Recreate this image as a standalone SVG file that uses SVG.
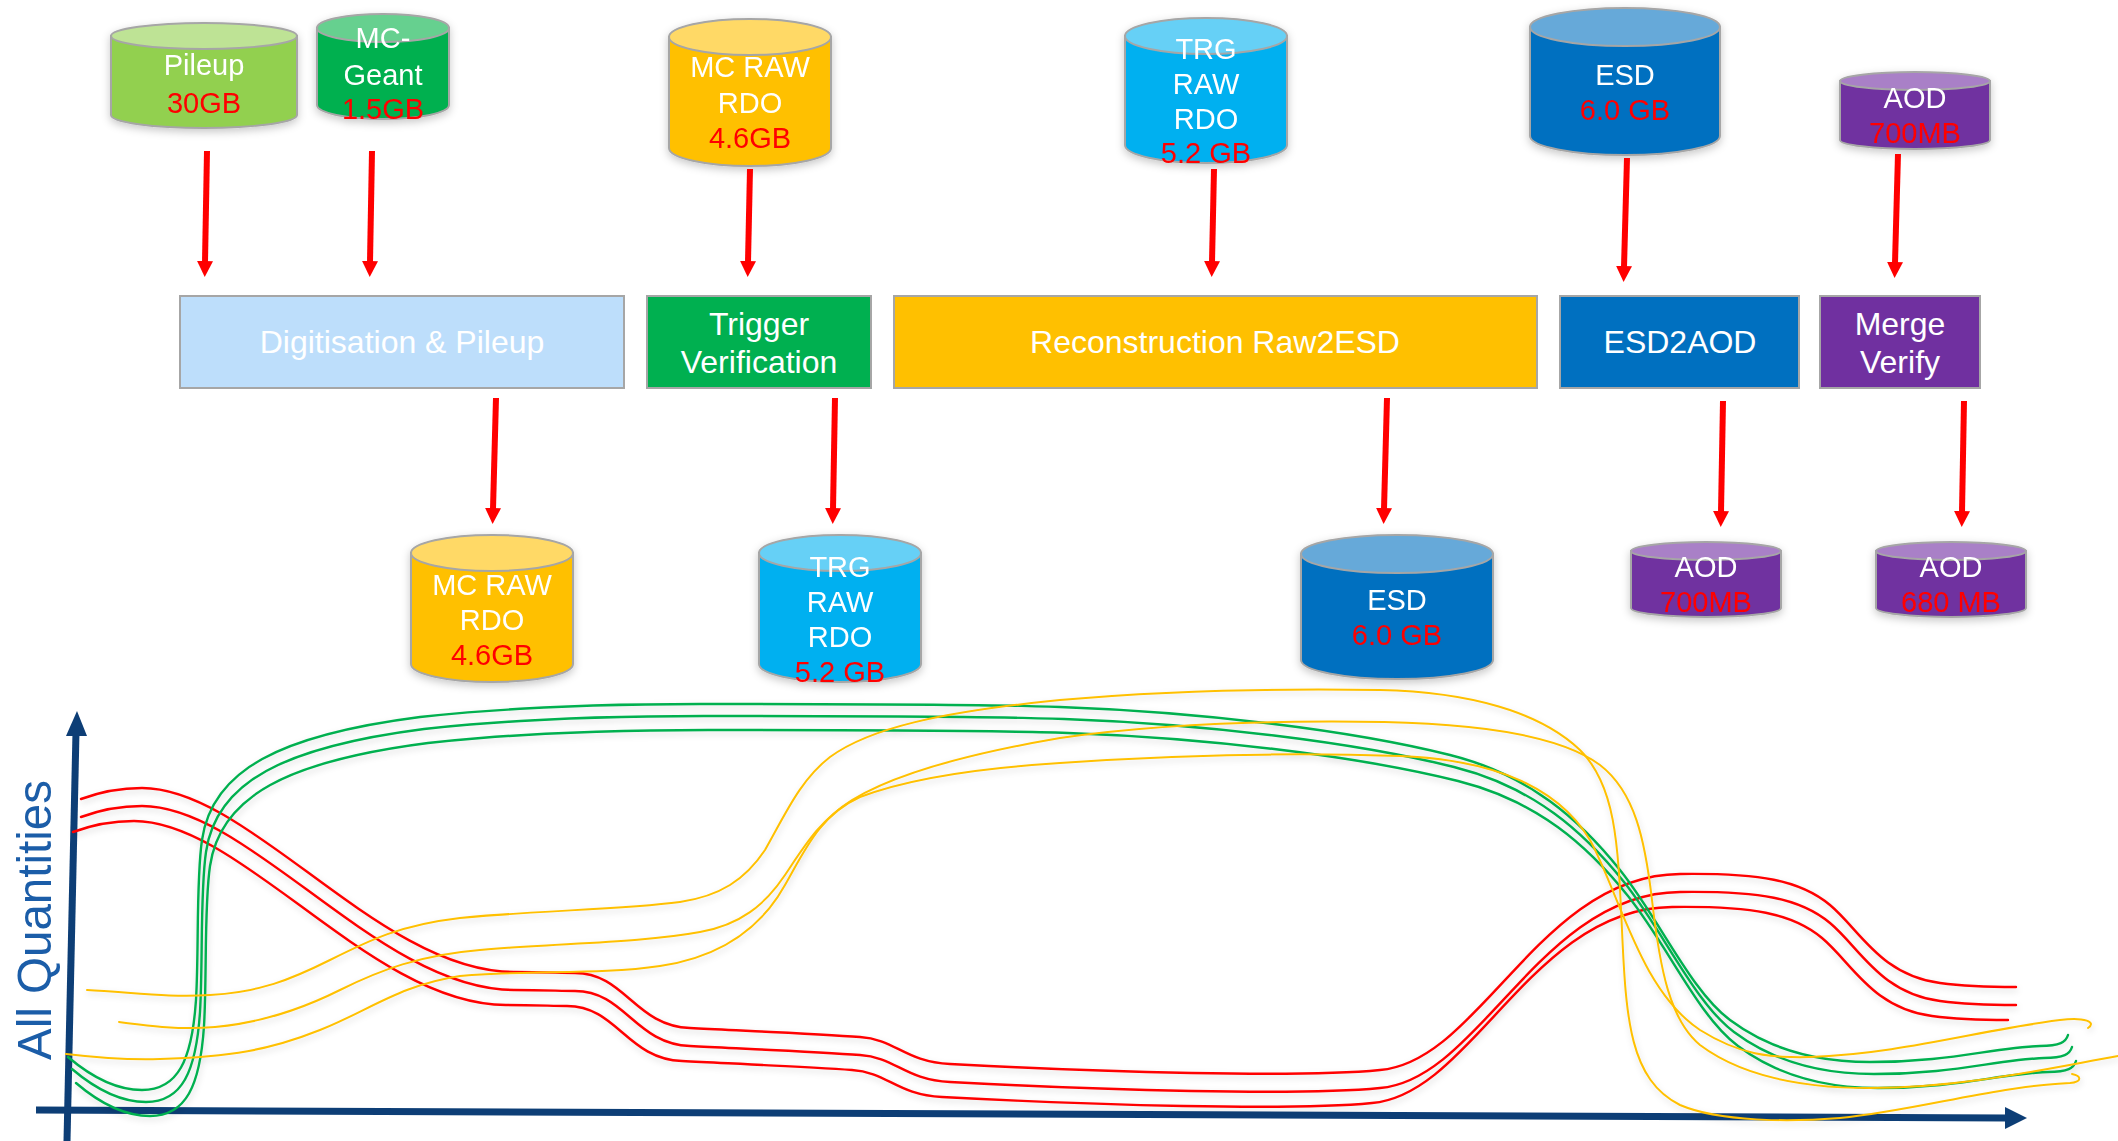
<svg xmlns="http://www.w3.org/2000/svg" xmlns:xlink="http://www.w3.org/1999/xlink" width="2118" height="1141" viewBox="0 0 2118 1141">
<style>
.cb{stroke:#A6A6A6;stroke-width:2}
.t{font-family:"Liberation Sans",Arial,sans-serif;font-size:29px;fill:#FFFFFF;text-anchor:middle}
.v{fill:#FF0000}
.bx{stroke:#A6A6A6;stroke-width:2}
.bt{font-size:32px}
.arr{stroke:#FF0000;stroke-width:6;fill:none;marker-end:url(#ah)}
.ax{stroke:#0D3E76;stroke-width:7;fill:none}
.cr{fill:none;stroke-width:2.4;stroke-linecap:round}
.red{stroke:#FF0000}
.grn{stroke:#00B050}
.yel{stroke:#FFC000;stroke-width:2}
</style>
<defs>
<marker id="ah" viewBox="0 0 16 16" refX="1" refY="8" markerWidth="16" markerHeight="16" markerUnits="userSpaceOnUse" orient="auto">
<path d="M0,0 L16,8 L0,16 Z" fill="#FF0000"/>
</marker>
<filter id="sh" x="-20%" y="-20%" width="140%" height="150%">
<feDropShadow dx="0" dy="3" stdDeviation="4" flood-color="#000" flood-opacity="0.22"/>
</filter>
<filter id="lsh" x="-5%" y="-5%" width="110%" height="115%">
<feDropShadow dx="1" dy="3" stdDeviation="3" flood-color="#000" flood-opacity="0.15"/>
</filter>
<path id="red1" d="M81,799 C100,792 120,788 142,788 C250,788 380,972 514,972 C545,972 560,973 575,973 C625,973 635,1026 690,1028 C750,1031 820,1034 860,1037 C895,1039 905,1062 950,1064 C1100,1072 1300,1078 1380,1070 C1480,1062 1540,875 1680,874 C1760,873 1800,880 1830,905 C1860,930 1880,975 1940,983 C1970,987 2000,987 2016,987"/>
<path id="grn1" d="M68,1057 C95,1080 118,1090 142,1090 C178,1090 192,1060 196,1000 C199,950 196,880 202,840 C212,770 280,735 420,717 C520,706 620,704 700,704 C850,704 980,704 1060,707 C1200,712 1350,730 1450,755 C1530,775 1580,820 1620,870 C1660,920 1690,990 1730,1020 C1770,1050 1820,1062 1870,1062 C1950,1062 1990,1048 2040,1046 C2060,1046 2066,1042 2068,1035"/>
</defs>

<!-- Top data cylinders -->
<g id="pileup" filter="url(#sh)">
<path class="cb" fill="#92D050" d="M111,36 L111,115 A93,13 0 0 0 297,115 L297,36 Z"/>
<ellipse class="cb" fill="#BEE395" cx="204" cy="36" rx="93" ry="13"/>
<text class="t" x="204" y="75" font-size="32">Pileup</text>
<text class="t v" x="204" y="113" font-size="32">30GB</text>
</g>
<g id="mc-geant" filter="url(#sh)">
<path class="cb" fill="#00B050" d="M317,28 L317,105 A66,14 0 0 0 449,105 L449,28 Z"/>
<ellipse class="cb" fill="#66D08F" cx="383" cy="28" rx="66" ry="14"/>
<text class="t" x="383" y="48">MC-</text>
<text class="t" x="383" y="85">Geant</text>
<text class="t v" x="383" y="119">1.5GB</text>
</g>
<g id="mc-raw-rdo-in" filter="url(#sh)">
<path class="cb" fill="#FFC000" d="M669,37 L669,148 A81,18 0 0 0 831,148 L831,37 Z"/>
<ellipse class="cb" fill="#FFD966" cx="750" cy="37" rx="81" ry="18"/>
<text class="t" x="750" y="77">MC RAW</text>
<text class="t" x="750" y="113">RDO</text>
<text class="t v" x="750" y="148">4.6GB</text>
</g>
<g id="trg-raw-rdo-in" filter="url(#sh)">
<path class="cb" fill="#00B0F0" d="M1125,36 L1125,145 A81,18 0 0 0 1287,145 L1287,36 Z"/>
<ellipse class="cb" fill="#66D0F6" cx="1206" cy="36" rx="81" ry="18"/>
<text class="t" x="1206" y="59">TRG</text>
<text class="t" x="1206" y="94">RAW</text>
<text class="t" x="1206" y="129">RDO</text>
<text class="t v" x="1206" y="163">5.2 GB</text>
</g>
<g id="esd-in" filter="url(#sh)">
<path class="cb" fill="#0070C0" d="M1530,27 L1530,136 A95,19 0 0 0 1720,136 L1720,27 Z"/>
<ellipse class="cb" fill="#66A9D9" cx="1625" cy="27" rx="95" ry="19"/>
<text class="t" x="1625" y="85">ESD</text>
<text class="t v" x="1625" y="120">6.0 GB</text>
</g>
<g id="aod-in" filter="url(#sh)">
<path class="cb" fill="#7030A0" d="M1840,81 L1840,140 A75,9 0 0 0 1990,140 L1990,81 Z"/>
<ellipse class="cb" fill="#A980C7" cx="1915" cy="81" rx="75" ry="9"/>
<text class="t" x="1915" y="108">AOD</text>
<text class="t v" x="1915" y="143">700MB</text>
</g>

<!-- Process boxes -->
<g id="digitisation">
<rect class="bx" x="180" y="296" width="444" height="92" fill="#BDDEFB"/>
<text class="t bt" x="402" y="353">Digitisation &amp; Pileup</text>
</g>
<g id="trigger">
<rect class="bx" x="647" y="296" width="224" height="92" fill="#00B050"/>
<text class="t bt" x="759" y="335">Trigger</text>
<text class="t bt" x="759" y="373">Verification</text>
</g>
<g id="reconstruction">
<rect class="bx" x="894" y="296" width="643" height="92" fill="#FFC000"/>
<text class="t bt" x="1215" y="353">Reconstruction Raw2ESD</text>
</g>
<g id="esd2aod">
<rect class="bx" x="1560" y="296" width="239" height="92" fill="#0070C0"/>
<text class="t bt" x="1680" y="353">ESD2AOD</text>
</g>
<g id="merge">
<rect class="bx" x="1820" y="296" width="160" height="92" fill="#7030A0"/>
<text class="t bt" x="1900" y="335">Merge</text>
<text class="t bt" x="1900" y="373">Verify</text>
</g>

<!-- Output cylinders -->
<g id="mc-raw-rdo-out" filter="url(#sh)">
<path class="cb" fill="#FFC000" d="M411,553 L411,664 A81,18 0 0 0 573,664 L573,553 Z"/>
<ellipse class="cb" fill="#FFD966" cx="492" cy="553" rx="81" ry="18"/>
<text class="t" x="492" y="595">MC RAW</text>
<text class="t" x="492" y="630">RDO</text>
<text class="t v" x="492" y="665">4.6GB</text>
</g>
<g id="trg-raw-rdo-out" filter="url(#sh)">
<path class="cb" fill="#00B0F0" d="M759,553 L759,664 A81,18 0 0 0 921,664 L921,553 Z"/>
<ellipse class="cb" fill="#66D0F6" cx="840" cy="553" rx="81" ry="18"/>
<text class="t" x="840" y="577">TRG</text>
<text class="t" x="840" y="612">RAW</text>
<text class="t" x="840" y="647">RDO</text>
<text class="t v" x="840" y="682">5.2 GB</text>
</g>
<g id="esd-out" filter="url(#sh)">
<path class="cb" fill="#0070C0" d="M1301,554 L1301,660 A96,19 0 0 0 1493,660 L1493,554 Z"/>
<ellipse class="cb" fill="#66A9D9" cx="1397" cy="554" rx="96" ry="19"/>
<text class="t" x="1397" y="610">ESD</text>
<text class="t v" x="1397" y="645">6.0 GB</text>
</g>
<g id="aod-out-1" filter="url(#sh)">
<path class="cb" fill="#7030A0" d="M1631,551 L1631,608 A75,9 0 0 0 1781,608 L1781,551 Z"/>
<ellipse class="cb" fill="#A980C7" cx="1706" cy="551" rx="75" ry="9"/>
<text class="t" x="1706" y="577">AOD</text>
<text class="t v" x="1706" y="612">700MB</text>
</g>
<g id="aod-out-2" filter="url(#sh)">
<path class="cb" fill="#7030A0" d="M1876,551 L1876,608 A75,9 0 0 0 2026,608 L2026,551 Z"/>
<ellipse class="cb" fill="#A980C7" cx="1951" cy="551" rx="75" ry="9"/>
<text class="t" x="1951" y="577">AOD</text>
<text class="t v" x="1951" y="612">680 MB</text>
</g>

<!-- Connectors -->
<g id="connectors">
<line class="arr" x1="207" y1="151" x2="205" y2="262"/>
<line class="arr" x1="372" y1="151" x2="370" y2="262"/>
<line class="arr" x1="750" y1="169" x2="748" y2="262"/>
<line class="arr" x1="1214" y1="169" x2="1212" y2="262"/>
<line class="arr" x1="1627" y1="158" x2="1624" y2="267"/>
<line class="arr" x1="1898" y1="154" x2="1895" y2="263"/>
<line class="arr" x1="496" y1="398" x2="493" y2="509"/>
<line class="arr" x1="835" y1="398" x2="833" y2="509"/>
<line class="arr" x1="1387" y1="398" x2="1384" y2="509"/>
<line class="arr" x1="1723" y1="401" x2="1721" y2="512"/>
<line class="arr" x1="1964" y1="401" x2="1962" y2="512"/>
</g>

<!-- Chart -->
<g id="axes">
<line class="ax" x1="67" y1="1141" x2="76" y2="732"/>
<polygon points="77,711 87,736 66,736" fill="#0D3E76"/>
<line class="ax" x1="36" y1="1110" x2="2007" y2="1118"/>
<polygon points="2027,1118 2005,1107 2005,1129" fill="#0D3E76"/>
<text transform="translate(51,920) rotate(-90)" font-family="'Liberation Sans',Arial,sans-serif" font-size="49" fill="#1B5DA8" text-anchor="middle" textLength="280" lengthAdjust="spacingAndGlyphs">All Quantities</text>
</g>
<g id="curves" filter="url(#lsh)">
<use xlink:href="#red1" class="cr red"/>
<use xlink:href="#red1" class="cr red" transform="translate(0,18)"/>
<use xlink:href="#red1" class="cr red" transform="translate(-8,33)"/>
<use xlink:href="#grn1" class="cr grn"/>
<use xlink:href="#grn1" class="cr grn" transform="translate(4,12)"/>
<use xlink:href="#grn1" class="cr grn" transform="translate(8,26)"/>
<path class="cr yel" d="M87,990 C130,992 170,998 210,995 C260,992 290,980 330,960 C370,940 400,925 460,918 C540,910 620,910 680,902 C720,896 745,880 765,850 C785,815 800,780 830,757 C870,728 940,712 1060,700 C1150,692 1250,688 1380,690 C1470,692 1540,712 1580,750 C1615,785 1618,840 1622,930 C1626,1020 1630,1080 1680,1105 C1720,1122 1790,1122 1840,1118 C1920,1110 1990,1087 2070,1083 C2082,1082 2082,1076 2072,1074"/>
<path class="cr yel" d="M119,1022 C150,1026 180,1030 215,1027 C260,1023 300,1010 340,990 C380,970 420,955 480,950 C560,943 640,943 700,932 C740,925 765,905 785,875 C805,845 820,820 852,800 C890,777 960,755 1060,738 C1150,725 1260,720 1384,722 C1480,724 1560,735 1600,765 C1635,792 1645,840 1652,900 C1660,970 1670,1020 1700,1045 C1740,1075 1800,1088 1870,1088 C1960,1088 2040,1070 2118,1056"/>
<path class="cr yel" d="M66,1054 C100,1058 130,1060 160,1059 C230,1057 270,1050 320,1030 C370,1010 400,985 460,976 C530,970 600,975 660,966 C720,957 760,930 785,885 C805,850 820,815 860,797 C910,778 980,768 1060,763 C1160,756 1280,752 1400,756 C1500,760 1560,790 1590,840 C1620,895 1640,990 1700,1030 C1740,1055 1770,1058 1810,1057 C1900,1054 1980,1030 2060,1020 C2085,1017 2097,1022 2088,1028"/>
</g>
</svg>
